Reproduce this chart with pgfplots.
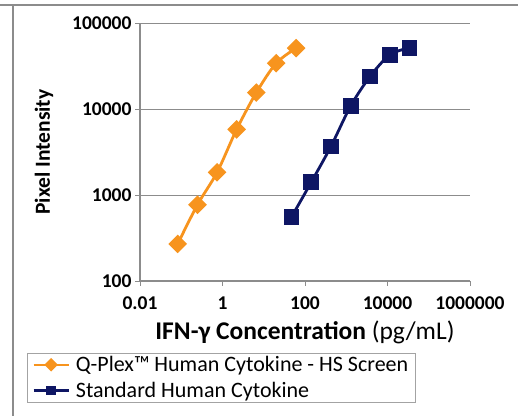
\documentclass[border=0pt]{standalone}
\usepackage{fontspec}
\setmainfont{Carlito}
\usepackage{pgfplots}
\pgfplotsset{compat=1.18}
\definecolor{qorange}{RGB}{247,148,30}
\definecolor{qnavy}{RGB}{14,22,100}
\definecolor{axgray}{RGB}{140,140,140}
\begin{document}
\begin{tikzpicture}
\useasboundingbox (0pt,0pt) rectangle (518pt,-416pt);
% outer chart frame (only top and left visible)
\draw[axgray, line width=1.3pt] (0pt,-5pt) -- (518pt,-5pt);
\draw[axgray, line width=1.3pt] (13pt,-5pt) -- (13pt,-416pt);
\begin{axis}[
    at={(140pt,-281pt)}, anchor=south west,
    scale only axis,
    width=330pt, height=258pt,
    xmode=log, ymode=log,
    xmin=0.01, xmax=1000000,
    ymin=100, ymax=100000,
    axis x line*=bottom, axis y line*=left,
    axis line style={axgray, line width=1.3pt},
    xtick={0.01,1,100,10000,1000000},
    xticklabels={0.01,1,100,10000,1000000},
    ytick={100,1000,10000,100000},
    yticklabels={100,1000,10000,100000},
    minor tick length=0pt,
    tick align=outside,
    major tick length=5pt,
    tick style={axgray, line width=1pt},
    ymajorgrids,
    grid style={axgray, line width=1pt},
    /pgf/number format/assume math mode=true,
    ticklabel style={font=\fontsize{19.5}{22}\selectfont\bfseries, text=black},
    xticklabel style={yshift=-7pt},
    xlabel={\textbf{IFN-γ Concentration} (pg/mL)},
    xlabel style={font=\fontsize{25.5}{29}\selectfont, at={(axis description cs:0.5,-0.198)}, anchor=center},
    ylabel={\textbf{Pixel Intensity}},
    ylabel style={font=\fontsize{21.5}{26}\selectfont, at={(axis description cs:-0.291,0.5)}, anchor=center},
    legend style={at={(axis description cs:-0.3424,-0.2791)}, anchor=north west,
        draw=axgray!80, line width=0.8pt, fill=white,
        font=\fontsize{22}{25}\selectfont, cells={anchor=west},
        inner xsep=5pt, inner ysep=1pt, row sep=5pt, column sep=4pt},
    legend image code/.code={
        \draw[mark repeat=2, mark phase=2, #1, mark size=3.5pt, line width=2.5pt]
            plot coordinates {(0pt,0pt) (17.5pt,0pt) (35pt,0pt)};
    },
]
\addplot[qorange, line width=2.8pt, smooth, mark=square*,
    mark size=5.2pt, mark options={rotate=45, solid}]
    coordinates {
    (0.082, 270)
    (0.247, 771)
    (0.74, 1837)
    (2.2, 5790)
    (6.6, 15520)
    (20, 34100)
    (61, 51000)
    };
\addlegendentry{Q-Plex™ Human Cytokine - HS Screen}
\addplot[qnavy, line width=2.8pt, smooth, mark=square*, mark size=6.5pt]
    coordinates {
    (47, 554)
    (141, 1404)
    (424, 3665)
    (1277, 10830)
    (3767, 23870)
    (11350, 42650)
    (34200, 51500)
    };
\addlegendentry{Standard Human Cytokine}
\end{axis}
\end{tikzpicture}
\end{document}
